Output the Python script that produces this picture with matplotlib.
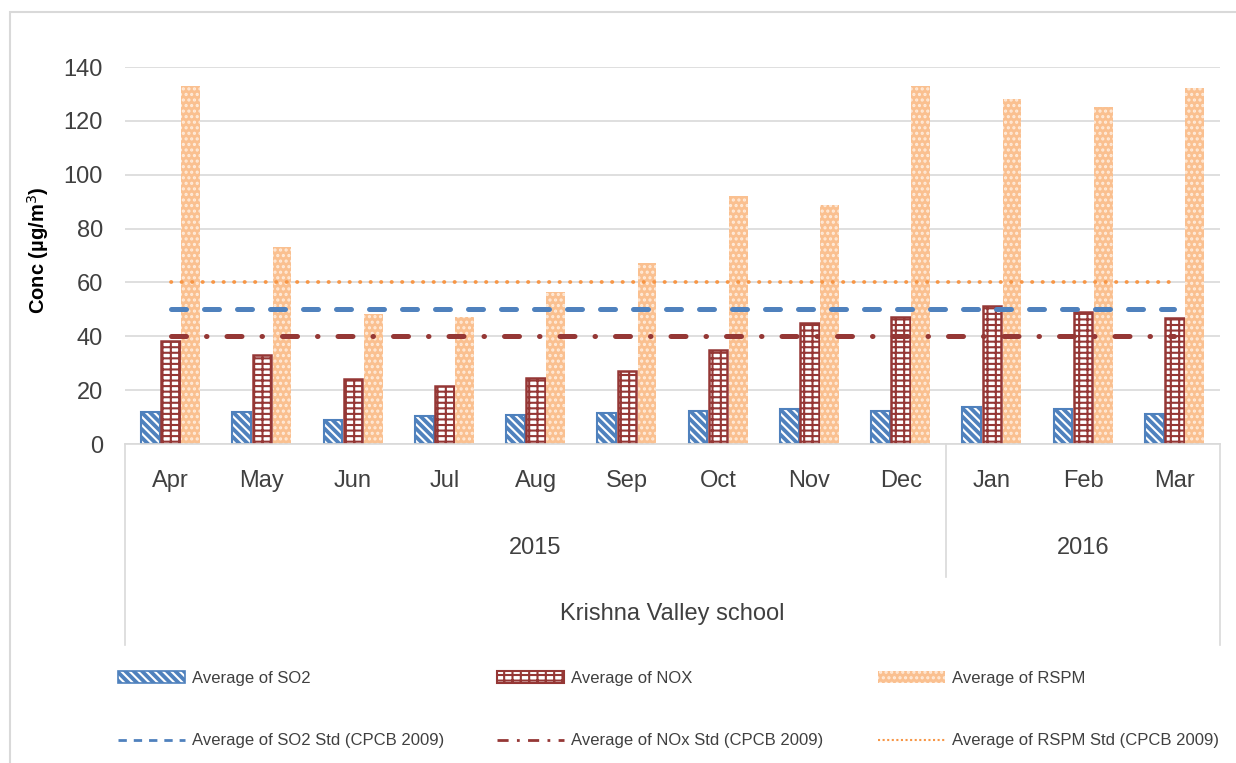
import numpy as np
import matplotlib.pyplot as plt
from matplotlib.patches import Rectangle
from matplotlib.lines import Line2D
from matplotlib.legend_handler import HandlerTuple

plt.rcParams['font.family'] = ['Liberation Sans', 'DejaVu Sans']
plt.rcParams['hatch.linewidth'] = 1.5

# monthly averages, Apr 2015 - Mar 2016
months = ['Apr', 'May', 'Jun', 'Jul', 'Aug', 'Sep', 'Oct', 'Nov', 'Dec',
          'Jan', 'Feb', 'Mar']
years = ['2015', '2016']
months_per_year = [9, 3]
site = 'Krishna Valley school'

so2 = [11.9, 11.9, 9.0, 10.4, 10.9, 11.4, 12.1, 13.1, 12.1, 13.6, 13.1, 11.2]
nox = [38.4, 33.2, 24.2, 21.7, 24.6, 27.0, 34.8, 44.8, 47.2, 51.4, 48.9, 46.7]
rspm = [132.9, 73.0, 48.4, 47.0, 56.6, 67.4, 92.0, 88.6, 132.9, 128.1, 125.1, 132.2]

# CPCB 2009 standards
so2_std = 50
nox_std = 40
rspm_std = 60

blue = '#4F81BD'
red = '#953735'
peach = '#FAC090'
orange = '#F79646'
grey = '#D9D9D9'
txt = '#404040'
so2_hatch = '\\\\\\\\'
nox_hatch = '---||'

fig = plt.figure(figsize=(12.36, 7.63), dpi=100)
ax = fig.add_axes([125 / 1236, 1 - 444 / 763, 1095 / 1236, 377 / 763])

x = np.arange(len(months))
w = 0.205
off = 0.22

# SO2: blue with white diagonal stripes, then a blue outline on top
ax.bar(x - off, so2, w, color=blue, edgecolor='white', linewidth=0, hatch=so2_hatch)
ax.bar(x - off, so2, w, fill=False, edgecolor=blue, linewidth=1.5)
# NOx: brick-like grid
ax.bar(x, nox, w, color='white', edgecolor=red, linewidth=1.8, hatch=nox_hatch)
# RSPM: dotted peach
ax.bar(x + off, rspm, w, color=peach, edgecolor='#FFEBDA', linewidth=0, hatch='...')

# standard lines across the whole period
ends = [x[0], x[-1]]
ax.plot(ends, [so2_std] * 2, color=blue, lw=3.6, dashes=(3.0, 3.6),
        dash_capstyle='round', zorder=5)
ax.plot(ends, [nox_std] * 2, color=red, lw=3.6, dashes=(3, 4, 0.1, 4),
        dash_capstyle='round', zorder=5)
ax.plot(ends, [rspm_std] * 2, color=orange, lw=2.7, dashes=(0.1, 2.7),
        dash_capstyle='round', zorder=5)

ax.set_xlim(-0.5, len(months) - 0.5)
ax.set_ylim(0, 140)
ax.set_yticks(range(0, 141, 20))
ax.set_xticks(x, months)
ax.tick_params(axis='y', length=0, pad=16, labelsize=17, labelcolor=txt)
ax.tick_params(axis='x', length=0, pad=19, labelsize=17, labelcolor=txt)
ax.yaxis.grid(True, color=grey, lw=1.2)
ax.set_axisbelow(True)
for s in ['left', 'right', 'top']:
    ax.spines[s].set_visible(False)
ax.spines['bottom'].set_color(grey)
ax.spines['bottom'].set_linewidth(1.2)

# multi-level category axis: year groups and site
xt = ax.get_xaxis_transform()
bounds = np.concatenate([[0], np.cumsum(months_per_year)]) - 0.5
for i, b in enumerate(bounds):
    depth = -0.533 if i in (0, len(bounds) - 1) else -0.353
    ax.plot([b, b], [0, depth], color=grey, lw=1.2, transform=xt, clip_on=False)
for yr, a, b in zip(years, bounds[:-1], bounds[1:]):
    ax.text((a + b) / 2, -0.276, yr, transform=xt, ha='center', va='center',
            fontsize=17, color=txt)
ax.text((bounds[0] + bounds[-1]) / 2, -0.451, site, transform=xt,
        ha='center', va='center', fontsize=17, color=txt)

fig.text(38 / 1236, 1 - 250 / 763, 'Conc (µg/m$^3$)', rotation=90,
         ha='center', va='center', fontsize=14.5, fontweight='bold', color='black')

# legend: one column per pollutant
so2_h = (Rectangle((0, 0), 1, 1, facecolor=blue, edgecolor='white', lw=0, hatch=so2_hatch),
         Rectangle((0, 0), 1, 1, fill=False, edgecolor=blue, lw=1.2))
nox_h = Rectangle((0, 0), 1, 1, facecolor='white', edgecolor=red, lw=1.5, hatch=nox_hatch)
rspm_h = Rectangle((0, 0), 1, 1, facecolor=peach, edgecolor='#FFEBDA', lw=0, hatch='...')
so2_l = Line2D([], [], color=blue, lw=2, dashes=(3, 2.5))
nox_l = Line2D([], [], color=red, lw=2, dashes=(4, 3, 1, 3))
rspm_l = Line2D([], [], color=orange, lw=1.5, dashes=(1, 1.2))

groups = [
    ([so2_h, so2_l], ['Average of SO2', 'Average of SO2 Std (CPCB 2009)'], 118),
    ([nox_h, nox_l], ['Average of NOX', 'Average of NOx Std (CPCB 2009)'], 497),
    ([rspm_h, rspm_l], ['Average of RSPM', 'Average of RSPM Std (CPCB 2009)'], 878),
]
for handles, labels, lx in groups:
    leg = fig.legend(handles, labels, loc='upper left',
                     bbox_to_anchor=(lx / 1236, 1 - 671 / 763),
                     frameon=False, fontsize=12, borderpad=0, borderaxespad=0,
                     handlelength=4.0, handleheight=0.7, handletextpad=0.45,
                     labelspacing=2.85,
                     handler_map={tuple: HandlerTuple(ndivide=1, pad=0)})
    for t in leg.get_texts():
        t.set_color(txt)

# chart border
fig.patches.append(Rectangle((10 / 1236, -0.1), 1.2, 1 - 12 / 763 + 0.1,
                             transform=fig.transFigure, fill=False,
                             edgecolor=grey, lw=1.5))

fig.savefig('out.png', dpi=100)
